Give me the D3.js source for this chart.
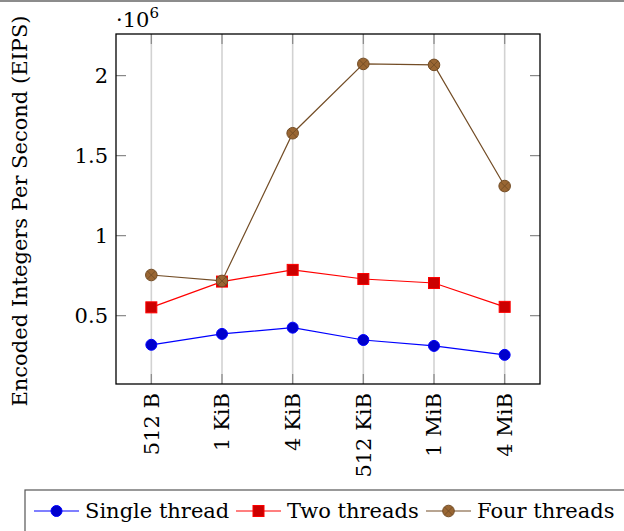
<!DOCTYPE html>
<html>
<head>
<meta charset="utf-8">
<script src="https://cdn.jsdelivr.net/npm/d3@7"></script>
<style>
  body { margin: 0; background: #fff; }
  svg { display: block; font-family: "DejaVu Serif", serif; }
</style>
</head>
<body>
<svg id="chart" width="624" height="531"></svg>
<script>
// data (values in millions of encoded integers per second)
const sizes = ['512 B', '1 KiB', '4 KiB', '512 KiB', '1 MiB', '4 MiB'];
const singleThread = [0.318, 0.386, 0.425, 0.348, 0.311, 0.255];
const twoThreads = [0.552, 0.713, 0.786, 0.729, 0.704, 0.555];
const fourThreads = [0.754, 0.717, 1.64, 2.073, 2.067, 1.31];
const yTicks = [0.5, 1, 1.5, 2];

const series = [
    { name: 'Single thread', values: singleThread, stroke: '#0000ff', fill: '#0000cc', mark: 'circle' },
    { name: 'Two threads', values: twoThreads, stroke: '#ff0000', fill: '#cc0000', mark: 'square' },
    { name: 'Four threads', values: fourThreads, stroke: '#734d26', fill: '#996633', mark: 'otimes' }
];

const svg = d3.select('#chart');
const plotLeft = 116, plotRight = 540, plotTop = 34, plotBottom = 384;

const x = d3.scalePoint().domain(sizes).range([plotLeft, plotRight]).padding(0.5);
const y = d3.scaleLinear().domain([0.073, 2.26]).range([plotBottom, plotTop]);

// top rule (cut-off frame from the page)
svg.append('line')
    .attr('x1', 0).attr('x2', 624).attr('y1', 1).attr('y2', 1)
    .attr('stroke', '#666').attr('stroke-width', 1.6);

// vertical grid
svg.append('g').selectAll('line')
    .data(sizes).enter().append('line')
    .attr('x1', d => x(d)).attr('x2', d => x(d))
    .attr('y1', plotTop).attr('y2', plotBottom)
    .attr('stroke', '#d2d2d2').attr('stroke-width', 1.6);

// tick marks (inside, both sides)
const tickLen = 10;
const ticks = svg.append('g').attr('stroke', '#888').attr('stroke-width', 1.2);
sizes.forEach(d => {
    ticks.append('line').attr('x1', x(d)).attr('x2', x(d)).attr('y1', plotBottom).attr('y2', plotBottom - tickLen);
    ticks.append('line').attr('x1', x(d)).attr('x2', x(d)).attr('y1', plotTop).attr('y2', plotTop + tickLen);
});
yTicks.forEach(v => {
    ticks.append('line').attr('x1', plotLeft).attr('x2', plotLeft + tickLen).attr('y1', y(v)).attr('y2', y(v));
    ticks.append('line').attr('x1', plotRight).attr('x2', plotRight - tickLen).attr('y1', y(v)).attr('y2', y(v));
});

// axis box
svg.append('rect')
    .attr('x', plotLeft).attr('y', plotTop)
    .attr('width', plotRight - plotLeft).attr('height', plotBottom - plotTop)
    .attr('fill', 'none').attr('stroke', '#000').attr('stroke-width', 1.3);

// y tick labels
svg.append('g').selectAll('text')
    .data(yTicks).enter().append('text')
    .attr('x', plotLeft - 8).attr('y', d => y(d))
    .attr('dy', '0.35em')
    .attr('text-anchor', 'end')
    .attr('font-size', 21)
    .text(d => d);

// x tick labels (rotated)
svg.append('g').selectAll('text')
    .data(sizes).enter().append('text')
    .attr('transform', d => `translate(${x(d)},${plotBottom + 9}) rotate(-90)`)
    .attr('dy', '0.35em')
    .attr('text-anchor', 'end')
    .attr('font-size', 21)
    .text(d => d);

// scale factor
const sf = svg.append('text').attr('x', plotLeft).attr('y', 27).attr('font-size', 21);
sf.append('tspan').text('·10');
sf.append('tspan').attr('dy', -9).attr('font-size', 15).text('6');

// y axis title
svg.append('text')
    .attr('transform', `translate(20,${(plotTop + plotBottom) / 2 + 2}) rotate(-90)`)
    .attr('dy', '0.35em')
    .attr('text-anchor', 'middle')
    .attr('font-size', 21)
    .text('Encoded Integers Per Second (EIPS)');

function drawMark(g, s, cx, cy) {
    if (s.mark === 'circle') {
        g.append('circle').attr('cx', cx).attr('cy', cy).attr('r', 5.5)
            .attr('fill', s.fill).attr('stroke', s.stroke).attr('stroke-width', 1);
    } else if (s.mark === 'square') {
        g.append('rect').attr('x', cx - 5.5).attr('y', cy - 5.5).attr('width', 11).attr('height', 11)
            .attr('fill', s.fill).attr('stroke', s.stroke).attr('stroke-width', 1);
    } else {
        g.append('circle').attr('cx', cx).attr('cy', cy).attr('r', 5.8)
            .attr('fill', s.fill).attr('stroke', s.stroke).attr('stroke-width', 1);
        const k = 5.8 * Math.SQRT1_2;
        g.append('path')
            .attr('d', `M${cx - k},${cy - k}L${cx + k},${cy + k}M${cx - k},${cy + k}L${cx + k},${cy - k}`)
            .attr('stroke', s.stroke).attr('stroke-width', 0.9);
    }
}

const line = d3.line().x((d, i) => x(sizes[i])).y(d => y(d));

series.forEach(s => {
    const g = svg.append('g');
    g.append('path')
        .attr('d', line(s.values))
        .attr('fill', 'none')
        .attr('stroke', s.stroke)
        .attr('stroke-width', 1.2);
    s.values.forEach((v, i) => drawMark(g, s, x(sizes[i]), y(v)));
});

// legend
const legend = svg.append('g');
legend.append('rect')
    .attr('x', 25).attr('y', 490).attr('width', 640).attr('height', 60)
    .attr('fill', '#fff').attr('stroke', '#555').attr('stroke-width', 1.2);
const legendX = [34, 236, 426];
const legendY = 511;
series.forEach((s, i) => {
    const lx = legendX[i];
    legend.append('line')
        .attr('x1', lx).attr('x2', lx + 45).attr('y1', legendY).attr('y2', legendY)
        .attr('stroke', s.stroke).attr('stroke-width', 1.2);
    drawMark(legend, s, lx + 22.5, legendY);
    legend.append('text')
        .attr('x', lx + 51).attr('y', legendY)
        .attr('dy', '0.35em')
        .attr('font-size', 21)
        .text(s.name);
});
</script>
</body>
</html>
